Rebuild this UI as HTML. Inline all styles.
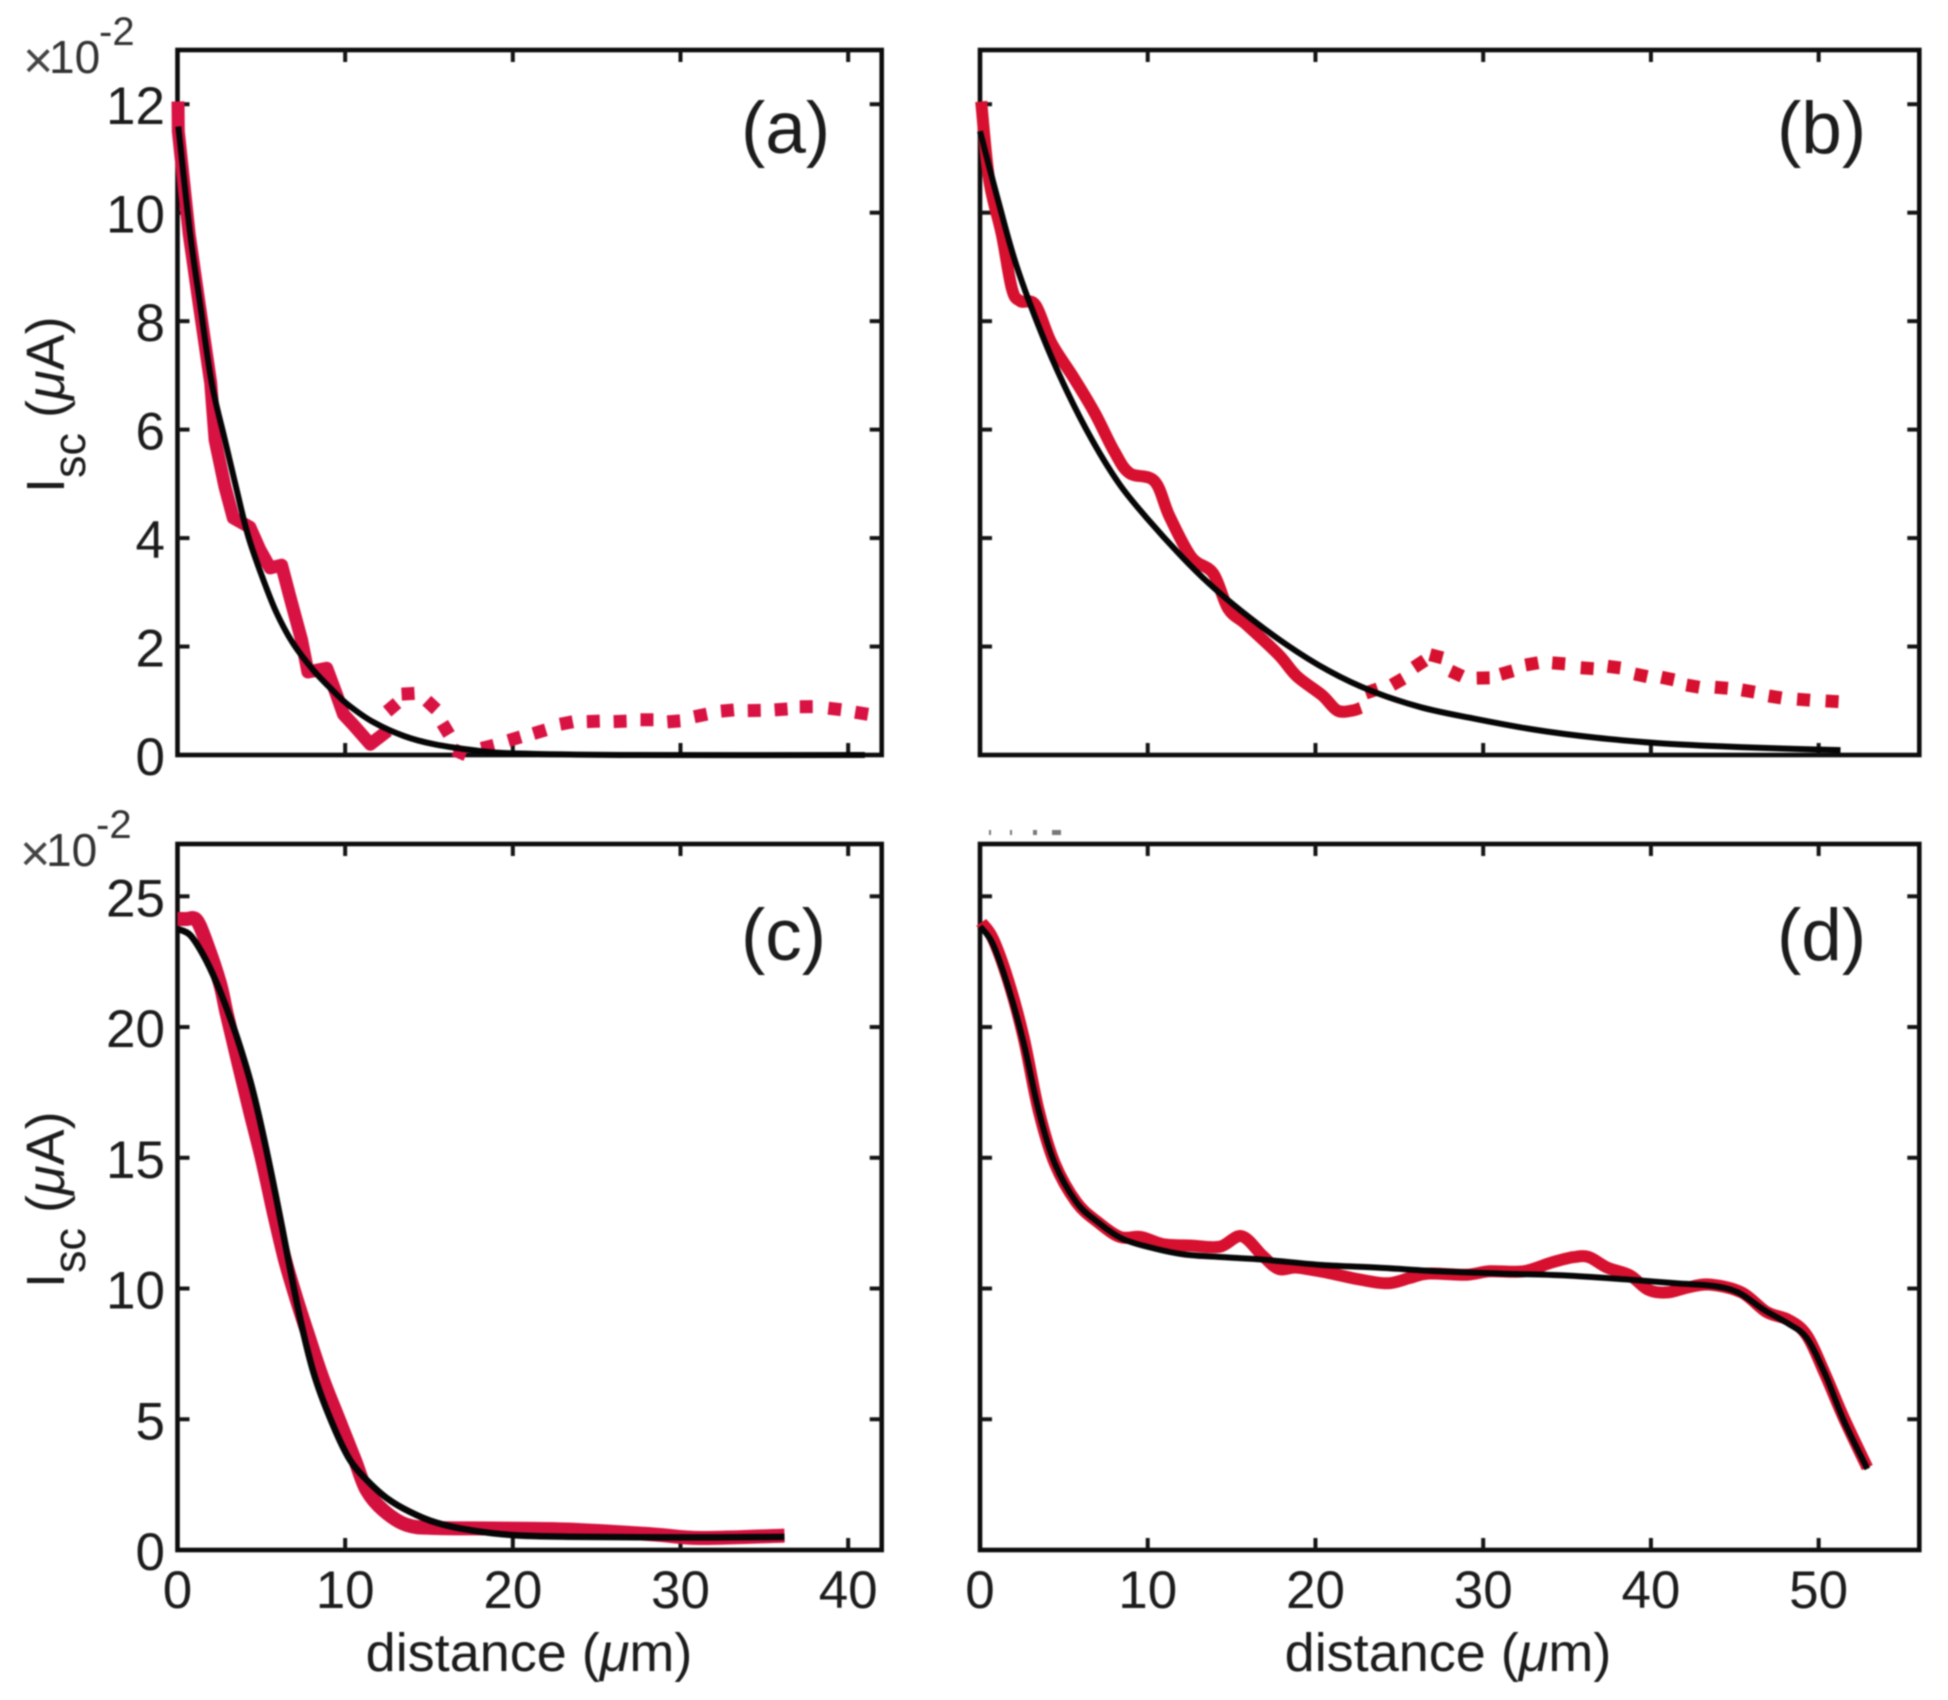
<!DOCTYPE html>
<html lang="en">
<head>
<meta charset="utf-8">
<title>Isc versus distance</title>
<style>
html,body{margin:0;padding:0;background:#fff;}
svg{display:block;filter:blur(0.9px);}
text{font-family:"Liberation Sans",sans-serif;fill:#1c1c1c;}
</style>
</head>
<body>
<svg id="chart" xmlns="http://www.w3.org/2000/svg" width="1948" height="1700" viewBox="0 0 1948 1700"></svg>
<script>
const xTicksAC = [0, 10, 20, 30, 40];
const xTicksBD = [0, 10, 20, 30, 40, 50];
const yTicksAB = [0, 2, 4, 6, 8, 10, 12];
const yTicksCD = [0, 5, 10, 15, 20, 25];

const aRedX = [0.03,0.05,0.7,1.3,1.98,2.24,2.83,3.33,4.32,4.92,5.52,6.21,6.71,7.4,7.78,8.9,9.5,9.9,10.5,11.5,12.55];
const aRedY = [12.05,11.5,9.6,8.3,6.86,5.81,4.95,4.37,4.2,3.78,3.45,3.5,2.91,2.12,1.53,1.6,1.1,0.75,0.55,0.2,0.45];
const aDotX = [12.8,13.75,15.15,16,16.85,18.5,20.1,21.6,23.2,24.8,26.4,28,29.6,31.2,32.8,34.4,36,37.5,39.2,40.8];
const aDotY = [0.88,1.13,0.92,0.48,0.05,0.15,0.3,0.43,0.59,0.62,0.62,0.65,0.62,0.73,0.82,0.82,0.84,0.89,0.85,0.77];
const aFitX = [0.05,0.75,1.34,2.04,2.83,3.53,4.22,5.12,5.91,6.89,8.09,9.39,10.2,11.6,13.5,15.3,17.9,20.1,26.4,41];
const aFitY = [11.59,9.62,8.33,6.86,5.81,4.89,4.03,3.23,2.62,2.06,1.57,1.15,0.92,0.62,0.35,0.2,0.08,0.03,0,0];

const bRedX = [0.07,0.55,1.3,1.9,2.4,3.3,4.25,5.6,6.85,8,8.9,10.4,11.3,12.6,13.9,14.8,15.9,17.8,18.9,20.4,21.3,22.2,22.7];
const bRedY = [12.05,10.6,9.6,8.6,8.37,8.3,7.6,6.95,6.3,5.6,5.2,5.05,4.4,3.65,3.35,2.7,2.4,1.85,1.45,1.1,0.82,0.82,0.87];
const bDotX = [23.35,24.9,26.2,27.2,28.4,30,31.4,32.9,34.5,36.2,37.8,39.4,41,42.5,44.2,45.8,47.4,49.1,50.8];
const bDotY = [1.18,1.35,1.68,1.82,1.5,1.42,1.52,1.68,1.69,1.6,1.62,1.47,1.41,1.27,1.24,1.18,1.07,1.02,0.99];
const bFitX = [0,1.1,2.2,3.7,5.2,6.7,8.3,10,11.9,13.7,15.6,18.2,20.8,23.35,26.3,29.3,33,36.7,40.4,44.1,47.8,51.3];
const bFitY = [11.5,10.2,9,7.75,6.7,5.8,5,4.35,3.7,3.15,2.65,2.05,1.55,1.18,0.88,0.68,0.47,0.32,0.22,0.16,0.12,0.09];

const cRedX = [0,0.55,1.14,1.74,2.53,2.93,3.53,4.32,5.02,5.71,6.41,7.1,7.8,8.69,9.79,10.58,11.28,12.26,13.67,15.46,19.4,23.4,28.3,31.2,36.2];
const cRedY = [24.13,24.13,24.09,23.2,21.68,20.53,18.9,16.8,15,13,11.1,9.6,8.2,6.5,4.72,3.44,2.29,1.53,0.96,0.84,0.82,0.78,0.6,0.46,0.55];
const cFitX = [0.05,0.75,1.54,2.34,3.03,3.73,4.42,5.12,5.91,6.61,7.4,8.2,9.29,10.29,11.28,12.47,13.86,15.46,17.44,20,23.4,30.1,36.2];
const cFitY = [23.74,23.52,22.75,21.68,20.55,19.25,17.75,15.85,13.4,11.1,8.6,6.6,4.75,3.44,2.68,1.99,1.46,1.04,0.76,0.57,0.51,0.48,0.5];

const dRedX = [0.07,0.75,1.67,2.6,3.5,4.45,5.75,7,8.35,9.6,10.9,12.6,14.3,15.6,16.85,17.8,18.9,20.75,22.6,24.3,25.6,26.7,29,30.4,32.4,34.1,35.4,36.3,37.4,38.75,39.85,41,42.25,43.55,45.4,46.9,48.2,49.3,50.4,51.5,52.9];
const dRedY = [24,23.4,21.8,19.6,16.8,14.8,13.3,12.55,11.97,11.97,11.7,11.64,11.6,12,11.25,10.75,10.8,10.6,10.35,10.2,10.4,10.57,10.53,10.66,10.66,11,11.2,11.2,10.8,10.5,9.95,9.85,10.05,10.15,9.85,9.1,8.8,8.2,6.7,5.05,3.15];
const dFitX = [0,0.75,1.67,2.6,3.5,4.45,5.75,7,8.5,10.4,12.2,14.45,17,20.4,23.7,27.4,31.1,34.8,38.5,41.5,43.7,45.2,46.7,48.2,49.3,50.4,51.5,52.9];
const dFitY = [23.85,23.2,21.55,19.4,16.8,14.8,13.3,12.55,11.9,11.53,11.3,11.2,11.1,10.9,10.8,10.66,10.57,10.5,10.35,10.2,10.1,9.85,9.2,8.65,8.1,6.7,4.95,3.1];

const svg = document.getElementById('chart');
const NS = 'http://www.w3.org/2000/svg';

function make(tag, attrs, parent) {
  const el = document.createElementNS(NS, tag);
  for (const k in attrs) el.setAttribute(k, attrs[k]);
  parent.appendChild(el);
  return el;
}

function fitPath(pts) {
  let d = 'M' + pts[0][0].toFixed(1) + ' ' + pts[0][1].toFixed(1);
  for (let i = 0; i < pts.length - 1; i++) {
    const p0 = pts[Math.max(i - 1, 0)], p1 = pts[i], p2 = pts[i + 1], p3 = pts[Math.min(i + 2, pts.length - 1)];
    const c1x = p1[0] + (p2[0] - p0[0]) / 6, c1y = p1[1] + (p2[1] - p0[1]) / 6;
    const c2x = p2[0] - (p3[0] - p1[0]) / 6, c2y = p2[1] - (p3[1] - p1[1]) / 6;
    d += 'C' + c1x.toFixed(1) + ' ' + c1y.toFixed(1) + ' ' + c2x.toFixed(1) + ' ' + c2y.toFixed(1) + ' ' + p2[0].toFixed(1) + ' ' + p2[1].toFixed(1);
  }
  return d;
}

function drawPanel(p) {
  const g = make('g', {}, svg);
  
  
  const xs = v => p.left + (v / p.xMax) * (p.right - p.left);
  const ys = v => p.bottom - (v / p.yMax) * (p.bottom - p.top);

  const frame = make('rect', {x: p.left, y: p.top, width: p.right - p.left, height: p.bottom - p.top, fill: 'none', stroke: '#0c0c0c', 'stroke-width': 4.6}, g);
  
  

  p.xTicks.forEach(t => {
    if (t === 0) return;
    const tickBottom = make('line', {x1: xs(t), x2: xs(t), y1: p.bottom, y2: p.bottom - 12, stroke: '#141414', 'stroke-width': 4}, g);
    
    
    const tickTop = make('line', {x1: xs(t), x2: xs(t), y1: p.top, y2: p.top + 12, stroke: '#141414', 'stroke-width': 4}, g);
    
    
  });
  p.yTicks.forEach(t => {
    if (t === 0) return;
    const tickLeft = make('line', {x1: p.left, x2: p.left + 12, y1: ys(t), y2: ys(t), stroke: '#141414', 'stroke-width': 4}, g);
    
    
    const tickRight = make('line', {x1: p.right, x2: p.right - 12, y1: ys(t), y2: ys(t), stroke: '#141414', 'stroke-width': 4}, g);
    
    
  });

  if (p.showXLabels) {
    p.xTicks.forEach(t => {
      const lab = make('text', {x: xs(t), y: p.bottom + 58, 'text-anchor': 'middle', 'font-size': 53}, g);
      lab.textContent = t;
      
      
    });
  }
  if (p.showYLabels) {
    p.yTicks.forEach(t => {
      const lab = make('text', {x: 165, y: ys(t) + 20, 'text-anchor': 'end', 'font-size': 53}, g);
      lab.textContent = t;
      
      
    });
  }

  const redPts = p.redX.map((v, i) => [xs(v), ys(p.redY[i])]);
  const red = make('path', {d: p.smoothRed ? fitPath(redPts) : 'M' + redPts.map(q => q[0].toFixed(1) + ' ' + q[1].toFixed(1)).join('L'), fill: 'none', stroke: p.color, 'stroke-width': p.redWidth, 'stroke-linejoin': 'round'}, g);
  
  

  if (p.dotX) {
    const dotPts = p.dotX.map((v, i) => [xs(v), ys(p.dotY[i])]);
    dotPts.forEach((q, i) => {
      const a = dotPts[Math.max(i - 1, 0)], b = dotPts[Math.min(i + 1, dotPts.length - 1)];
      const dx = b[0] - a[0], dy = b[1] - a[1], len = Math.hypot(dx, dy) || 1;
      const hx = dx / len * 6.5, hy = dy / len * 6.5;
      const dot = make('line', {x1: q[0] - hx, y1: q[1] - hy, x2: q[0] + hx, y2: q[1] + hy, stroke: p.color, 'stroke-width': 13}, g);
      
      
    });
  }

  const fitPts = p.fitX.map((v, i) => [xs(v), ys(p.fitY[i])]);
  const fit = make('path', {d: fitPath(fitPts), fill: 'none', stroke: '#060606', 'stroke-width': p.fitWidth, 'stroke-linejoin': 'round'}, g);
  
  

  const letter = make('text', {x: p.labelX, y: p.labelY, 'font-size': 73}, g);
  letter.textContent = '(' + p.id + ')';
  
  
}

drawPanel({id: 'a', left: 177.5, right: 881.7, top: 50, bottom: 755, xMax: 42, yMax: 13, xTicks: xTicksAC, yTicks: yTicksAB, showXLabels: false, showYLabels: true, color: '#d81242', redWidth: 13, fitWidth: 6, smoothRed: false, redX: aRedX, redY: aRedY, dotX: aDotX, dotY: aDotY, fitX: aFitX, fitY: aFitY, labelX: 741, labelY: 153});
drawPanel({id: 'b', left: 980, right: 1919.3, top: 50, bottom: 755, xMax: 56, yMax: 13, xTicks: xTicksBD, yTicks: yTicksAB, showXLabels: false, showYLabels: false, color: '#d6102e', redWidth: 12, fitWidth: 6, smoothRed: true, redX: bRedX, redY: bRedY, dotX: bDotX, dotY: bDotY, fitX: bFitX, fitY: bFitY, labelX: 1777, labelY: 153});
drawPanel({id: 'c', left: 177.5, right: 881.7, top: 844, bottom: 1550, xMax: 42, yMax: 27, xTicks: xTicksAC, yTicks: yTicksCD, showXLabels: true, showYLabels: true, color: '#d4103e', redWidth: 14, fitWidth: 6.5, smoothRed: true, redX: cRedX, redY: cRedY, fitX: cFitX, fitY: cFitY, labelX: 741, labelY: 960});
drawPanel({id: 'd', left: 980, right: 1919.3, top: 844, bottom: 1550, xMax: 56, yMax: 27, xTicks: xTicksBD, yTicks: yTicksCD, showXLabels: true, showYLabels: false, color: '#d6102e', redWidth: 12, fitWidth: 6, smoothRed: true, redX: dRedX, redY: dRedY, fitX: dFitX, fitY: dFitY, labelX: 1777, labelY: 960});
</script>
<script>
(function () {
  const host = document.getElementById('chart');
  const ns = 'http://www.w3.org/2000/svg';
  const markup =
    '<g style="fill:#333"><text x="23" y="78" font-size="52" style="fill:#444">×</text><text x="49" y="73" font-size="46" style="fill:#333">10</text><text x="99" y="45" font-size="40" style="fill:#333">-2</text></g>' +
    '<g style="fill:#333"><text x="20" y="871" font-size="52" style="fill:#444">×</text><text x="46" y="866" font-size="46" style="fill:#333">10</text><text x="96" y="838" font-size="40" style="fill:#333">-2</text></g>' +
    '<text transform="translate(64,493) rotate(-90)" font-size="54">I<tspan font-size="45" dy="21">sc</tspan><tspan dy="-21"> (</tspan><tspan font-style="italic">μ</tspan>A)</text>' +
    '<text transform="translate(64,1288) rotate(-90)" font-size="54">I<tspan font-size="45" dy="21">sc</tspan><tspan dy="-21"> (</tspan><tspan font-style="italic">μ</tspan>A)</text>' +
    '<text x="529" y="1671" text-anchor="middle" font-size="54">distance (<tspan font-style="italic">μ</tspan>m)</text>' +
    '<text x="1448" y="1671" text-anchor="middle" font-size="54">distance (<tspan font-style="italic">μ</tspan>m)</text>' +
    '<g fill="#777"><rect x="989" y="830" width="2" height="5"/><rect x="1010" y="830" width="2" height="5"/><rect x="1033" y="830" width="4" height="5"/><rect x="1052" y="830" width="9" height="5"/></g>';
  const wrap = document.createElementNS(ns, 'g');
  
  
  wrap.innerHTML = markup;
  host.appendChild(wrap);
})();
</script>
</body>
</html>
